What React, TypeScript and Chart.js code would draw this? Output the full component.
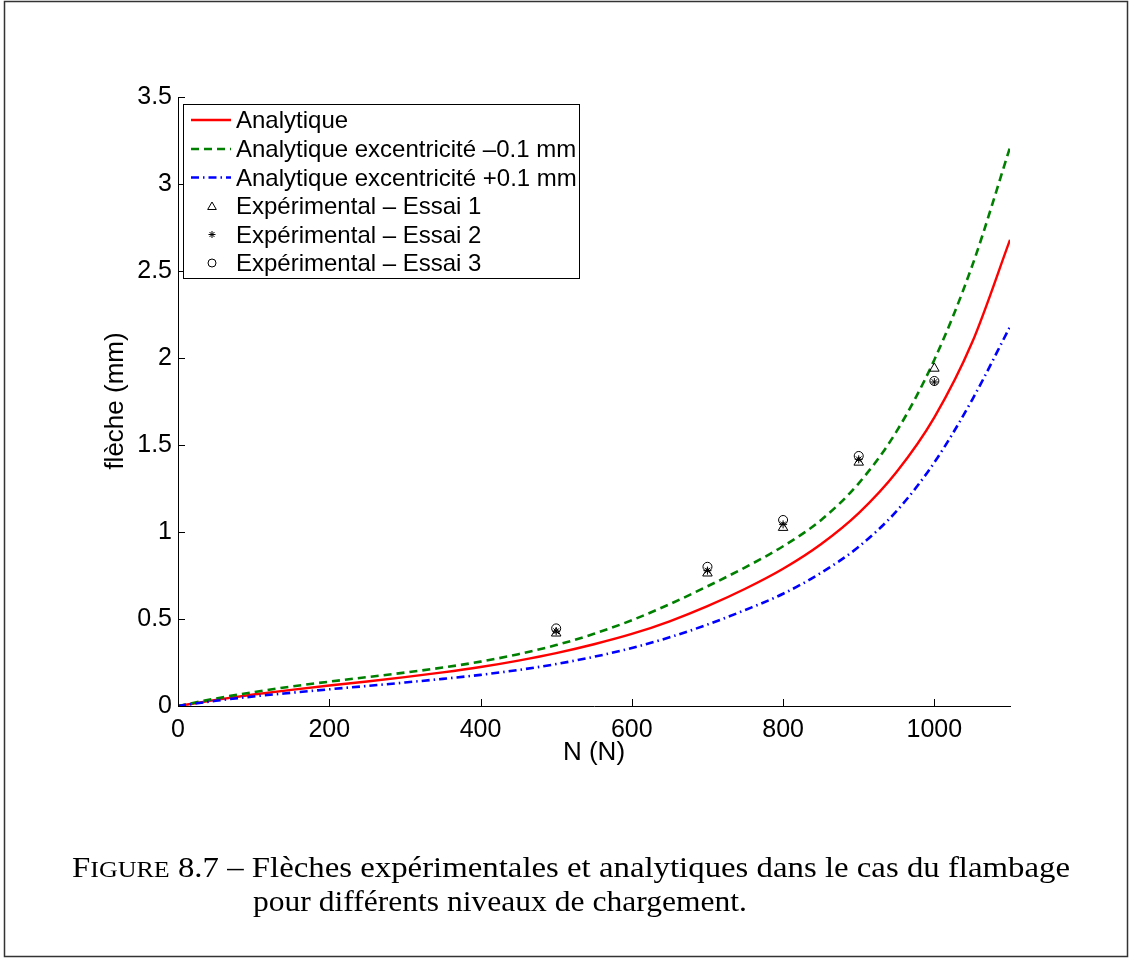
import React, { useEffect, useRef } from "react";
import { Chart, registerables } from "chart.js";

Chart.register(...registerables);

// ---- data ----
const loadN = [0, 50, 100, 150, 200, 250, 300, 350, 400, 450, 500, 550, 600, 650, 700, 750, 800, 850, 900, 950, 1000, 1050, 1100];
const analytique = [0, 0.035, 0.066, 0.093, 0.118, 0.141, 0.166, 0.193, 0.224, 0.261, 0.304, 0.355, 0.414, 0.487, 0.574, 0.674, 0.789, 0.93, 1.109, 1.345, 1.659, 2.09, 2.679];
const excMinus = [0, 0.043, 0.08, 0.112, 0.14, 0.166, 0.192, 0.221, 0.255, 0.298, 0.35, 0.415, 0.493, 0.585, 0.688, 0.797, 0.918, 1.068, 1.28, 1.578, 1.99, 2.53, 3.21];
const excPlus = [0, 0.03, 0.055, 0.076, 0.096, 0.115, 0.135, 0.156, 0.179, 0.207, 0.241, 0.283, 0.333, 0.395, 0.468, 0.552, 0.645, 0.765, 0.915, 1.12, 1.4, 1.76, 2.18];

const expN = [500, 700, 800, 900, 1000];
const essai1 = [0.418, 0.763, 1.025, 1.4, 1.94];
const essai2 = [0.43, 0.778, 1.044, 1.418, 1.862];
const essai3 = [0.446, 0.8, 1.069, 1.437, 1.868];

const xTicks = [0, 200, 400, 600, 800, 1000];
const xTickLabels = ["0", "200", "400", "600", "800", "1000"];
const yTicks = [0, 0.5, 1, 1.5, 2, 2.5, 3, 3.5];
const yTickLabels = ["0", "0.5", "1", "1.5", "2", "2.5", "3", "3.5"];

const seriesLabels = [
  "Analytique",
  "Analytique excentricité –0.1 mm",
  "Analytique excentricité +0.1 mm",
  "Expérimental – Essai 1",
  "Expérimental – Essai 2",
  "Expérimental – Essai 3",
];

const xTitle = "N (N)";
const yTitle = "flèche (mm)";
const captionLine1 = "Flèches expérimentales et analytiques dans le cas du flambage";
const captionLine2 = "pour différents niveaux de chargement.";

const SANS = '"Liberation Sans", Arial, Helvetica, sans-serif';
const SERIF = '"Liberation Serif", "DejaVu Serif", serif';

function drawMarker(ctx: CanvasRenderingContext2D, style: string, x: number, y: number, r: number) {
  ctx.beginPath();
  if (style === "triangle") {
    for (let k = 0; k < 3; k++) {
      const a = (k * 2 * Math.PI) / 3;
      const px = x + Math.sin(a) * r;
      const py = y - Math.cos(a) * r;
      if (k === 0) ctx.moveTo(px, py);
      else ctx.lineTo(px, py);
    }
    ctx.closePath();
  } else if (style === "circle") {
    ctx.arc(x, y, r, 0, Math.PI * 2);
  } else {
    for (let k = 0; k < 4; k++) {
      const a = (k * Math.PI) / 4;
      ctx.moveTo(x - Math.cos(a) * r, y - Math.sin(a) * r);
      ctx.lineTo(x + Math.cos(a) * r, y + Math.sin(a) * r);
    }
  }
  ctx.stroke();
}

const decorPlugin = {
  id: "matlabDecor",
  beforeDraw(chart: any) {
    const ctx = chart.ctx as CanvasRenderingContext2D;
    ctx.save();
    ctx.fillStyle = "#ffffff";
    ctx.fillRect(0, 0, chart.width, chart.height);
    ctx.restore();
  },
  afterDraw(chart: any) {
    const ctx = chart.ctx as CanvasRenderingContext2D;
    const xs = chart.scales.x;
    const ys = chart.scales.y;
    const area = chart.chartArea;
    ctx.save();

    // inward tick marks
    ctx.strokeStyle = "#000";
    ctx.lineWidth = 1;
    ctx.beginPath();
    xTicks.forEach((v) => {
      const px = Math.round(xs.getPixelForValue(v)) + 0.5;
      ctx.moveTo(px, area.bottom);
      ctx.lineTo(px, area.bottom - 7);
    });
    yTicks.forEach((v) => {
      const py = Math.round(ys.getPixelForValue(v)) + 0.5;
      ctx.moveTo(area.left, py);
      ctx.lineTo(area.left + 7, py);
    });
    ctx.stroke();

    // axis titles
    ctx.fillStyle = "#000";
    ctx.font = `26px ${SANS}`;
    ctx.textAlign = "center";
    ctx.textBaseline = "alphabetic";
    ctx.fillText(xTitle, (area.left + area.right) / 2, 760);
    ctx.save();
    ctx.translate(123, 401);
    ctx.rotate(-Math.PI / 2);
    ctx.fillText(yTitle, 0, 0);
    ctx.restore();

    // legend
    const lx = 183.5, ly = 104.5, lw = 396, lh = 174;
    ctx.fillStyle = "#fff";
    ctx.fillRect(lx, ly, lw, lh);
    ctx.strokeStyle = "#000";
    ctx.lineWidth = 1;
    ctx.strokeRect(lx, ly, lw, lh);
    const baselines = [128, 157, 185.5, 214, 242.5, 271];
    const dsets = chart.data.datasets;
    ctx.font = `24px ${SANS}`;
    ctx.textAlign = "left";
    baselines.forEach((b, i) => {
      const ds = dsets[i];
      const cy = b - 8;
      ctx.save();
      if (i < 3) {
        ctx.strokeStyle = ds.borderColor;
        ctx.lineWidth = ds.borderWidth;
        ctx.setLineDash(ds.borderDash || []);
        ctx.beginPath();
        ctx.moveTo(191, cy);
        ctx.lineTo(231, cy);
        ctx.stroke();
      } else {
        ctx.strokeStyle = "#000";
        ctx.lineWidth = 1;
        const r = ds.pointStyle === "triangle" ? 5 : ds.pointStyle === "circle" ? 4 : 3.5;
        drawMarker(ctx, ds.pointStyle, 212, cy + (ds.pointStyle === "triangle" ? 1 : 0), r);
      }
      ctx.restore();
      ctx.fillStyle = "#000";
      ctx.fillText(ds.label, 236, b);
    });

    // caption
    const big = 29, small = 23;
    const segs = [
      { t: "F", s: big },
      { t: "IGURE", s: small },
      { t: " 8.7 – ", s: big },
      { t: captionLine1, s: big },
    ];
    let natural = 0;
    const widths = segs.map((sg) => {
      ctx.font = `${sg.s}px ${SERIF}`;
      const w = ctx.measureText(sg.t).width;
      natural += w;
      return w;
    });
    const k = (1070 - 72) / natural;
    ctx.save();
    ctx.translate(72, 877);
    ctx.scale(k, 1);
    ctx.fillStyle = "#000";
    let cx = 0;
    segs.forEach((sg, i) => {
      ctx.font = `${sg.s}px ${SERIF}`;
      ctx.fillText(sg.t, cx, 0);
      cx += widths[i];
    });
    ctx.restore();

    ctx.font = `${big}px ${SERIF}`;
    const w2 = ctx.measureText(captionLine2).width;
    ctx.save();
    ctx.translate(253, 911);
    ctx.scale((747 - 253) / w2, 1);
    ctx.fillStyle = "#000";
    ctx.fillText(captionLine2, 0, 0);
    ctx.restore();

    // figure frame
    ctx.strokeStyle = "#333";
    ctx.lineWidth = 1.5;
    ctx.strokeRect(4.5, 1.5, 1123, 955);

    ctx.restore();
  },
};

export default function App() {
  const ref = useRef<HTMLCanvasElement>(null);

  useEffect(() => {
    const pts = (xv: number[], yv: number[]) => xv.map((x, i) => ({ x, y: yv[i] }));
    const lineCommon = {
      showLine: true,
      pointRadius: 0,
      pointHoverRadius: 0,
      fill: false,
      cubicInterpolationMode: "monotone",
    };
    const markCommon = {
      showLine: false,
      borderColor: "#000",
      backgroundColor: "rgba(0,0,0,0)",
      pointBorderColor: "#000",
      pointBackgroundColor: "rgba(0,0,0,0)",
      pointBorderWidth: 1,
    };
    const chart = new Chart(ref.current as HTMLCanvasElement, {
      type: "scatter",
      data: {
        datasets: [
          { ...lineCommon, label: seriesLabels[0], data: pts(loadN, analytique), borderColor: "#ff0000", borderWidth: 2.4, order: 3 },
          { ...lineCommon, label: seriesLabels[1], data: pts(loadN, excMinus), borderColor: "#008000", borderWidth: 2.6, borderDash: [8, 5], order: 2 },
          { ...lineCommon, label: seriesLabels[2], data: pts(loadN, excPlus), borderColor: "#0000ff", borderWidth: 2.6, borderDash: [8, 4, 1.5, 4], order: 1 },
          { ...markCommon, label: seriesLabels[3], data: pts(expN, essai1), pointStyle: "triangle", pointRadius: 5.5, order: 0 },
          { ...markCommon, label: seriesLabels[4], data: pts(expN, essai2), pointStyle: "star", pointRadius: 4, order: 0 },
          { ...markCommon, label: seriesLabels[5], data: pts(expN, essai3), pointStyle: "circle", pointRadius: 4.5, order: 0 },
        ] as any,
      },
      options: {
        responsive: false,
        animation: false,
        devicePixelRatio: 1,
        events: [],
        layout: { padding: { left: 0, top: 97, right: 120, bottom: 0 } },
        plugins: {
          legend: { display: false },
          tooltip: { enabled: false },
          title: { display: false },
        },
        scales: {
          x: {
            type: "linear",
            min: 0,
            max: 1100,
            afterBuildTicks: (s: any) => {
              s.ticks = xTicks.map((v) => ({ value: v }));
            },
            afterFit: (s: any) => {
              s.height = 958 - 706;
            },
            grid: { display: true, drawOnChartArea: false, drawTicks: false },
            border: { display: true, color: "#000", width: 1 },
            ticks: {
              color: "#000",
              font: { family: SANS, size: 25 },
              padding: 9,
              maxRotation: 0,
              autoSkip: false,
              callback: (_v: any, i: number) => xTickLabels[i],
            },
          },
          y: {
            type: "linear",
            min: 0,
            max: 3.5,
            afterBuildTicks: (s: any) => {
              s.ticks = yTicks.map((v) => ({ value: v }));
            },
            afterFit: (s: any) => {
              s.width = 178;
            },
            grid: { display: true, drawOnChartArea: false, drawTicks: false },
            border: { display: true, color: "#000", width: 1 },
            ticks: {
              color: "#000",
              font: { family: SANS, size: 25 },
              padding: 6,
              autoSkip: false,
              callback: (_v: any, i: number) => yTickLabels[i],
            },
          },
        },
      } as any,
      plugins: [decorPlugin],
    });
    return () => chart.destroy();
  }, []);

  return (
    <div style={{ position: "absolute", left: 0, top: 0, width: 1130, height: 958, background: "#fff" }}>
      <canvas ref={ref} width={1130} height={958} style={{ display: "block", width: 1130, height: 958 }} />
    </div>
  );
}
